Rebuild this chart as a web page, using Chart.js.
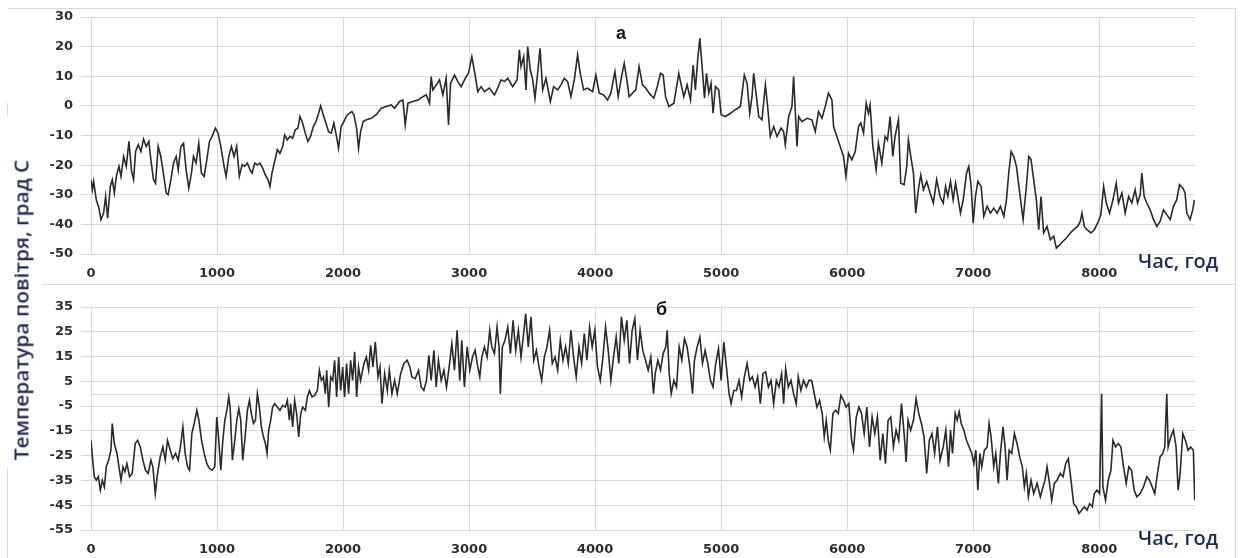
<!DOCTYPE html>
<html lang="uk">
<head>
<meta charset="utf-8">
<title>Температура повітря</title>
<script src="https://cdn.jsdelivr.net/npm/chart.js@4.4.1/dist/chart.umd.min.js"></script>
<style>
    html, body { margin: 0; padding: 0; background: #fff; }
    #wrap { position: relative; width: 1240px; height: 558px; overflow: hidden; background: #fff; }
    .line { position: absolute; background: #d9d9d9; }
    canvas { position: absolute; left: 0; }
    .axisTitle {
        position: absolute; white-space: nowrap; color: #1f2b58;
        font-family: "Open Sans", sans-serif; font-weight: 600; line-height: 1;
    }
    .panelLetter {
        position: absolute; font-family: "Liberation Sans", Arial, sans-serif;
        font-weight: bold; font-size: 18px; line-height: 1; color: #111;
    }
</style>
</head>
<body>
<div id="wrap">
    <!-- frames around both panels -->
    <div class="line" style="left:8px;top:8px;width:1228px;height:1px"></div>
    <div class="line" style="left:7px;top:103px;width:1px;height:181px"></div>
    <div class="line" style="left:1235px;top:8px;width:1px;height:550px"></div>
    <div class="line" style="left:8px;top:284px;width:1228px;height:1px"></div>
    <div class="line" style="left:7px;top:468px;width:1px;height:90px"></div>
    <div style="position:absolute;left:0;top:116px;width:42px;height:350px;background:#fff"></div>

    <canvas id="chartA" width="1240" height="284" style="top:0"></canvas>
    <canvas id="chartB" width="1240" height="274" style="top:284px"></canvas>

    <div id="yTitle" class="axisTitle" style="left:22px;top:310px;font-size:19px">Температура повітря, град С</div>
    <div class="axisTitle xTitle" style="left:1138px;top:252px;font-size:19px">Час, год</div>
    <div class="axisTitle xTitle" style="left:1138px;top:529px;font-size:19px">Час, год</div>
    <div class="panelLetter" style="left:616px;top:24px">а</div>
    <div class="panelLetter" style="left:656px;top:300px">б</div>
</div>

<script>
// Tick values
const xTicks = [0, 1000, 2000, 3000, 4000, 5000, 6000, 7000, 8000];
const yTicksA = [30, 20, 10, 0, -10, -20, -30, -40, -50];
const yTicksB = [35, 25, 15, 5, -5, -15, -25, -35, -45, -55];

// Panel "а": hour of year and air temperature
const hoursA = [0, 11, 21, 42, 63, 79, 100, 116, 132, 153, 169, 185, 201, 222, 238, 259, 280, 301, 322, 338,
    354, 375, 396, 417, 438, 459, 475, 496, 512, 533, 554, 576, 597, 612, 634, 655, 676, 692, 713, 734,
    755, 776, 797, 813, 834, 855, 876, 898, 919, 940, 961, 987, 1008, 1030, 1056, 1072, 1093, 1114, 1135, 1156,
    1177, 1199, 1220, 1241, 1262, 1278, 1299, 1320, 1341, 1362, 1383, 1404, 1420, 1436, 1457, 1478, 1499, 1521, 1537, 1558,
    1579, 1600, 1621, 1642, 1658, 1679, 1700, 1721, 1742, 1764, 1785, 1806, 1822, 1843, 1864, 1885, 1906, 1927, 1948, 1964,
    1985, 2006, 2028, 2049, 2070, 2086, 2107, 2123, 2139, 2160, 2185, 2224, 2264, 2303, 2343, 2383, 2409, 2449, 2475, 2493,
    2515, 2554, 2594, 2633, 2660, 2686, 2699, 2713, 2739, 2765, 2792, 2818, 2837, 2853, 2884, 2911, 2937, 2977, 2995, 3022,
    3043, 3069, 3095, 3122, 3161, 3201, 3227, 3254, 3280, 3307, 3346, 3381, 3399, 3412, 3433, 3452, 3465, 3486, 3505, 3523,
    3544, 3563, 3584, 3610, 3645, 3671, 3703, 3729, 3755, 3782, 3808, 3835, 3861, 3882, 3909, 3940, 3980, 4006, 4033, 4067,
    4099, 4125, 4157, 4183, 4210, 4231, 4252, 4270, 4297, 4323, 4349, 4376, 4402, 4429, 4466, 4493, 4519, 4540, 4559, 4585,
    4625, 4664, 4683, 4704, 4730, 4757, 4778, 4796, 4815, 4831, 4849, 4868, 4884, 4902, 4920, 4936, 4955, 4981, 5000, 5034,
    5074, 5113, 5153, 5184, 5206, 5227, 5245, 5258, 5280, 5298, 5324, 5351, 5369, 5390, 5417, 5443, 5475, 5496, 5509, 5536,
    5562, 5575, 5588, 5602, 5615, 5641, 5681, 5720, 5747, 5773, 5800, 5826, 5852, 5879, 5892, 5918, 5945, 5971, 5990, 6011,
    6037, 6064, 6090, 6108, 6130, 6151, 6169, 6182, 6204, 6230, 6248, 6275, 6301, 6320, 6341, 6362, 6380, 6407, 6425, 6452,
    6473, 6486, 6505, 6526, 6544, 6565, 6584, 6605, 6631, 6658, 6684, 6710, 6737, 6762, 6781, 6799, 6820, 6841, 6860, 6878,
    6899, 6921, 6947, 6965, 6984, 7000, 7018, 7037, 7063, 7084, 7111, 7137, 7163, 7190, 7216, 7243, 7264, 7282, 7301, 7322,
    7343, 7369, 7396, 7422, 7441, 7459, 7480, 7501, 7520, 7538, 7559, 7586, 7612, 7639, 7660, 7686, 7713, 7739, 7771, 7797,
    7829, 7850, 7863, 7882, 7903, 7934, 7961, 7987, 8013, 8035, 8056, 8082, 8109, 8135, 8153, 8180, 8206, 8233, 8259, 8285,
    8304, 8325, 8338, 8357, 8378, 8404, 8431, 8457, 8483, 8510, 8536, 8563, 8589, 8615, 8637, 8663, 8681, 8695, 8721, 8742,
    8755];
const tempA = [-24.9, -28.3, -25.5, -31.7, -34.5, -38.4, -36.2, -30.6, -37.9, -27.2, -24.9, -29.4, -23.8, -20.4, -23.8, -17.1, -20.4, -12.0, -22.1, -24.9,
    -15.4, -13.1, -15.4, -11.2, -13.7, -12.0, -18.2, -24.9, -26.1, -13.7, -17.1, -23.3, -29.4, -30.0, -24.9, -19.3, -17.1, -21.6, -13.7, -12.6,
    -21.6, -27.8, -22.7, -17.1, -19.3, -12.6, -22.7, -23.8, -18.2, -12.0, -10.3, -7.5, -9.2, -13.7, -20.4, -23.8, -17.1, -13.7, -17.1, -13.7,
    -23.8, -19.9, -20.4, -19.3, -21.6, -22.7, -19.3, -19.9, -19.3, -21.0, -23.3, -24.9, -27.2, -22.7, -18.8, -14.8, -16.0, -13.7, -9.8, -11.5,
    -10.3, -10.9, -8.1, -7.5, -3.6, -5.8, -9.2, -12.0, -10.3, -7.0, -5.3, -2.5, 0, -3.0, -5.8, -8.7, -9.2, -5.8, -10.3, -14.3,
    -7.0, -5.3, -3.4, -2.5, -1.9, -3.0, -7.5, -14.3, -8.7, -5.3, -4.7, -4.2, -3.0, -0.8, -0.2, 0.3, -0.8, 1.5, 2.0, -6.4,
    0.9, 1.5, 2.0, 3.1, 3.7, 0.9, 9.9, 5.4, 7.1, 8.8, 3.7, 9.3, -6.4, 7.6, 10.4, 8.2, 6.5, 9.9, 11.0, 16.6,
    11.6, 4.8, 6.5, 4.8, 6.0, 3.7, 6.0, 8.8, 8.2, 9.3, 6.5, 8.8, 18.9, 13.3, 16.6, 5.4, 20.0, 12.1, 8.8, 2.6,
    11.0, 19.4, 5.4, 9.3, 1.5, 6.5, 5.4, 7.1, 9.3, 8.2, 3.1, 8.8, 17.2, 11.0, 5.4, 6.0, 4.8, 10.4, 4.3, 3.7,
    2.0, 4.3, 11.6, 3.1, 9.9, 14.4, 8.8, 3.1, 4.3, 5.4, 13.3, 7.1, 6.0, 4.3, 2.6, 6.5, 11.0, 10.4, 3.1, -0.2,
    0.9, 11.0, 7.1, 3.1, 7.1, 2.0, 13.8, 5.4, 16.1, 22.8, 13.3, 2.6, 11.0, 4.3, 7.6, -2.5, 6.5, 5.4, -3.0, -3.6,
    -2.5, -1.3, -0.2, 10.4, 7.6, -2.5, 3.1, 11.0, 3.1, -3.6, -4.7, 7.1, -0.2, -10.3, -7.0, -10.3, -7.5, -8.7, -13.1, -3.6,
    -0.2, 9.9, -1.3, -13.7, -3.6, -5.3, -4.2, -4.7, -8.7, -1.9, -4.2, -0.2, 4.3, 2.0, -7.0, -10.3, -13.7, -17.1, -23.8, -16.0,
    -18.2, -15.4, -7.0, -5.8, -9.2, 0.9, -2.5, 0.3, -13.7, -21.6, -12.6, -19.3, -10.3, -11.5, -3.6, -17.1, -10.3, -4.7, -26.1, -26.6,
    -20.4, -11.5, -17.1, -22.7, -36.2, -28.3, -23.3, -28.3, -25.5, -29.4, -32.8, -24.9, -30.6, -32.8, -27.2, -30.6, -25.5, -31.7, -26.1, -30.6,
    -36.2, -31.7, -22.7, -20.4, -27.2, -39.6, -30.6, -25.5, -27.2, -37.3, -33.9, -36.2, -34.5, -36.2, -33.9, -37.3, -31.7, -22.7, -15.4, -17.1,
    -20.4, -29.4, -38.4, -27.2, -17.1, -18.2, -24.9, -31.7, -41.8, -30.6, -42.9, -40.7, -45.2, -44.0, -48.0, -46.9, -45.7, -44.6, -42.9, -41.8,
    -40.7, -39.0, -36.2, -40.7, -41.8, -42.9, -41.8, -39.6, -36.7, -27.2, -32.8, -36.2, -31.7, -26.1, -32.8, -29.4, -36.2, -30.6, -32.8, -28.3,
    -32.8, -30.0, -22.7, -30.6, -32.8, -35.1, -38.4, -40.7, -39.0, -35.1, -36.7, -38.4, -33.9, -31.7, -26.6, -27.7, -29.4, -36.2, -38.4, -35.1,
    -31.7];

// Panel "б": hour of year and air temperature
const hoursB = [0, 11, 26, 42, 58, 74, 90, 106, 121, 140, 158, 169, 185, 206, 222, 238, 254, 269, 285, 306,
    327, 351, 370, 391, 412, 433, 454, 475, 491, 510, 528, 549, 570, 589, 607, 629, 649, 671, 692, 713,
    729, 747, 766, 782, 800, 819, 840, 856, 877, 898, 919, 940, 961, 982, 998, 1014, 1030, 1046, 1062, 1078,
    1093, 1104, 1122, 1141, 1157, 1173, 1188, 1204, 1223, 1241, 1257, 1273, 1289, 1305, 1320, 1336, 1352, 1368, 1384, 1397,
    1410, 1426, 1441, 1457, 1478, 1499, 1521, 1542, 1558, 1574, 1584, 1600, 1616, 1632, 1648, 1664, 1680, 1701, 1717, 1733,
    1754, 1775, 1796, 1812, 1828, 1844, 1859, 1870, 1886, 1902, 1918, 1933, 1949, 1965, 1981, 1997, 2012, 2028, 2044, 2060,
    2076, 2092, 2108, 2123, 2139, 2166, 2185, 2203, 2219, 2237, 2256, 2277, 2293, 2309, 2330, 2351, 2367, 2388, 2409, 2430,
    2457, 2483, 2509, 2530, 2546, 2573, 2599, 2620, 2641, 2662, 2681, 2699, 2721, 2739, 2757, 2779, 2800, 2821, 2842, 2863,
    2884, 2905, 2926, 2942, 2963, 2985, 3006, 3027, 3048, 3069, 3085, 3101, 3122, 3143, 3164, 3180, 3201, 3222, 3238, 3248,
    3264, 3285, 3307, 3328, 3349, 3370, 3391, 3412, 3433, 3449, 3470, 3491, 3513, 3534, 3555, 3576, 3597, 3618, 3639, 3660,
    3682, 3703, 3724, 3745, 3766, 3787, 3808, 3829, 3850, 3872, 3893, 3914, 3935, 3956, 3977, 3998, 4019, 4041, 4062, 4083,
    4104, 4125, 4146, 4167, 4188, 4209, 4231, 4252, 4273, 4294, 4315, 4336, 4357, 4378, 4400, 4421, 4442, 4463, 4477, 4498,
    4519, 4540, 4561, 4572, 4588, 4604, 4625, 4646, 4667, 4688, 4709, 4730, 4752, 4773, 4788, 4810, 4831, 4852, 4873, 4894,
    4915, 4936, 4957, 4979, 5000, 5021, 5042, 5063, 5079, 5100, 5121, 5142, 5163, 5184, 5206, 5227, 5248, 5269, 5290, 5311,
    5332, 5353, 5375, 5396, 5417, 5438, 5459, 5480, 5496, 5512, 5533, 5554, 5575, 5596, 5612, 5633, 5654, 5676, 5697, 5718,
    5739, 5760, 5781, 5802, 5818, 5834, 5850, 5866, 5887, 5908, 5929, 5950, 5971, 5992, 6013, 6035, 6050, 6072, 6093, 6114,
    6135, 6156, 6177, 6198, 6219, 6240, 6262, 6283, 6304, 6325, 6346, 6367, 6388, 6409, 6431, 6452, 6468, 6483, 6504, 6526,
    6547, 6568, 6589, 6610, 6631, 6652, 6673, 6694, 6716, 6737, 6762, 6783, 6804, 6820, 6836, 6857, 6873, 6889, 6905, 6926,
    6947, 6968, 6989, 7005, 7021, 7037, 7053, 7068, 7089, 7111, 7126, 7142, 7163, 7179, 7200, 7216, 7237, 7253, 7269, 7285,
    7306, 7327, 7348, 7369, 7390, 7406, 7422, 7438, 7459, 7480, 7507, 7533, 7554, 7570, 7586, 7602, 7623, 7644, 7665, 7691,
    7713, 7734, 7755, 7776, 7797, 7818, 7839, 7860, 7882, 7903, 7924, 7945, 7961, 7982, 8003, 8019, 8029, 8050, 8072, 8093,
    8109, 8130, 8151, 8172, 8193, 8214, 8235, 8256, 8277, 8298, 8325, 8351, 8378, 8399, 8420, 8441, 8462, 8483, 8505, 8520,
    8536, 8547, 8568, 8589, 8610, 8626, 8642, 8663, 8684, 8705, 8726, 8747, 8758];
const tempB = [-18.8, -25.5, -33.5, -34.9, -33.5, -38.9, -34.9, -37.6, -29.5, -26.8, -22.8, -12.0, -20.1, -24.1, -29.5, -34.9, -29.5, -31.5, -28.2, -33.5,
    -32.2, -20.1, -18.8, -21.5, -26.8, -30.9, -32.2, -26.8, -29.5, -40.3, -32.2, -25.5, -21.5, -26.8, -18.8, -22.8, -26.2, -24.1, -26.8, -20.1,
    -13.4, -24.1, -29.5, -30.9, -16.1, -12.0, -6.7, -10.7, -18.8, -24.1, -28.2, -30.2, -30.9, -29.5, -9.4, -18.8, -30.9, -18.8, -10.7, -6.7,
    -1.3, -5.4, -26.8, -18.8, -10.7, -6.0, -10.7, -26.8, -17.4, -6.7, -2.7, -8.1, -12.0, -10.7, 0, -5.4, -13.4, -17.4, -20.1, -24.1,
    -14.7, -10.7, -5.4, -4.0, -5.4, -6.7, -4.7, -5.4, -2.7, -10.7, -4.0, -13.4, -2.7, -8.1, -17.4, -8.1, -5.4, -6.7, -1.3, 1.3,
    -1.3, -0.7, 1.3, 9.5, 5.4, 6.8, 0, 9.5, -5.4, 6.8, 5.4, 13.5, -1.3, 14.8, 1.3, 10.8, -1.3, 12.2, 0, 13.5,
    5.4, 16.9, -1.3, 10.8, 5.4, 12.2, 14.8, 9.5, 19.5, 10.8, 20.9, 6.8, 10.8, -4.0, 8.1, 1.3, 9.5, 0, 5.4, 0,
    8.1, 12.2, 13.5, 10.8, 6.8, 6.1, 9.5, 2.7, 1.3, 5.4, 15.5, 5.4, 17.5, 2.7, 13.5, 5.4, 9.5, 2.7, 10.8, 20.2,
    9.5, 25.6, 5.4, 21.6, 2.7, 18.9, 9.5, 14.8, 17.5, 10.8, 6.8, 14.8, 18.9, 14.8, 25.6, 18.9, 16.2, 26.9, 18.9, 0,
    18.9, 21.6, 26.9, 16.2, 29.6, 17.5, 25.6, 14.8, 24.3, 32.3, 18.9, 31.0, 13.5, 17.5, 10.8, 5.4, 14.8, 18.9, 25.6, 12.2,
    14.8, 9.5, 21.6, 13.5, 18.9, 12.2, 25.6, 14.8, 6.8, 18.9, 12.2, 24.3, 13.5, 26.9, 18.9, 25.6, 10.8, 5.4, 14.8, 26.9,
    17.5, 5.4, 14.8, 22.9, 12.2, 31.0, 21.6, 29.6, 12.2, 25.6, 30.3, 13.5, 25.6, 17.5, 13.5, 9.5, 14.8, 0, 8.1, 13.5,
    9.5, 16.2, 18.9, 25.6, 8.1, 0, 5.4, 2.7, 18.9, 13.5, 22.2, 18.9, 10.8, 0, 13.5, 18.9, 22.9, 12.2, 17.5, 12.2,
    5.4, 2.7, 12.2, 18.2, 5.4, 20.9, 10.8, 0, -4.0, 1.3, 1.3, 5.4, -1.3, 6.8, 12.2, 5.4, 6.8, 2.7, 6.8, -4.0,
    8.1, 8.8, 2.7, 5.4, -4.0, 5.4, 2.7, 8.1, -4.0, 10.1, 2.7, 5.4, 0, -4.0, 6.8, 1.3, 5.4, 2.7, 5.4, 5.4,
    0, -5.4, -2.7, -8.0, -17.4, -10.7, -18.8, -22.8, -8.0, -6.7, -8.0, -0.7, -2.7, -5.4, -4.0, -18.8, -22.8, -9.4, -5.4, -8.0,
    -16.1, -5.4, -21.5, -9.4, -16.1, -9.4, -26.8, -16.1, -28.2, -10.7, -9.4, -21.5, -14.7, -18.8, -4.0, -16.1, -27.5, -10.7, -14.7, -10.7,
    -2.0, -8.0, -12.0, -17.4, -32.2, -18.8, -16.1, -24.1, -13.4, -26.8, -21.5, -14.7, -29.5, -14.7, -24.1, -8.0, -10.7, -7.3, -12.0, -14.7,
    -18.8, -21.5, -24.1, -28.2, -22.8, -38.9, -24.1, -29.5, -22.8, -21.5, -12.0, -17.4, -29.5, -24.1, -36.2, -24.1, -13.4, -21.5, -34.9, -22.8,
    -24.1, -16.1, -20.1, -25.5, -29.5, -37.6, -32.2, -41.6, -34.9, -40.3, -36.2, -41.6, -37.6, -34.9, -29.5, -34.9, -43.0, -36.2, -34.9, -32.2,
    -33.5, -28.2, -26.2, -34.9, -44.4, -45.6, -48.3, -47.0, -45.6, -47.0, -44.4, -45.6, -40.3, -38.9, -40.3, 0, -37.6, -43.0, -34.9, -30.9,
    -18.8, -21.5, -20.1, -21.5, -29.5, -36.2, -29.5, -30.9, -38.9, -41.6, -40.3, -37.6, -33.5, -34.9, -37.6, -40.3, -32.2, -25.5, -24.1, -21.5,
    0, -21.5, -17.4, -14.7, -21.5, -38.9, -32.2, -16.1, -18.8, -22.8, -21.5, -22.8, -43.0];

const gridColor = '#d9d9d9';
const tickFont = { family: '"DejaVu Sans", Verdana, sans-serif', size: 13, weight: 'bold' };
const tickColor = '#2e2e2e';

// light line across the bottom panel at 0 degrees
const zeroLine = {
    id: 'zeroLine',
    beforeDatasetsDraw(chart, args, opts) {
        if (!opts.show) return;
        const y = Math.round(chart.scales.y.getPixelForValue(0)) + 0.5;
        const ctx = chart.ctx;
        ctx.save();
        ctx.strokeStyle = gridColor;
        ctx.lineWidth = 1;
        ctx.beginPath();
        ctx.moveTo(chart.chartArea.left, y);
        ctx.lineTo(chart.chartArea.right, y);
        ctx.stroke();
        ctx.restore();
    }
};

function buildPanel(canvasId, hours, temps, yTicks, padTop, axisHeight, showZero) {
    new Chart(document.getElementById(canvasId), {
        type: 'line',
        data: {
            datasets: [{
                data: hours.map((h, i) => ({ x: h, y: temps[i] })),
                borderColor: '#2a2a2a',
                borderWidth: 1.6,
                pointRadius: 0,
                tension: 0
            }]
        },
        options: {
            responsive: false,
            animation: false,
            layout: { padding: { top: padTop, right: 45, left: 0, bottom: 0 } },
            plugins: {
                legend: { display: false },
                tooltip: { enabled: false },
                zeroLine: { show: showZero }
            },
            scales: {
                x: {
                    type: 'linear',
                    min: 0,
                    max: 8760,
                    afterBuildTicks: s => { s.ticks = xTicks.map(v => ({ value: v })); },
                    afterFit: s => { s.height = axisHeight; },
                    grid: { color: gridColor, drawTicks: false },
                    border: { display: false },
                    ticks: {
                        font: tickFont, color: tickColor, padding: 12, maxRotation: 0, autoSkip: false,
                        callback: v => String(v)
                    }
                },
                y: {
                    type: 'linear',
                    min: yTicks[yTicks.length - 1],
                    max: yTicks[0],
                    afterBuildTicks: s => { s.ticks = yTicks.map(v => ({ value: v })); },
                    afterFit: s => { s.width = 91; },
                    grid: { color: gridColor, tickLength: 10 },
                    border: { display: false },
                    ticks: { font: tickFont, color: tickColor, padding: 8, callback: v => String(v) }
                }
            }
        },
        plugins: [zeroLine]
    });
}

buildPanel('chartA', hoursA, tempA, yTicksA, 17, 30, false);
buildPanel('chartB', hoursB, tempB, yTicksB, 23, 28, true);

// stretch the axis titles to their text box widths
function fitText(el, width, rotate) {
    const w = el.offsetWidth;
    const k = width / w;
    el.style.transformOrigin = rotate ? 'center center' : 'left top';
    el.style.transform = rotate
        ? `translate(-50%, -50%) rotate(-90deg) scaleX(${k})`
        : `scaleX(${k})`;
}
fitText(document.getElementById('yTitle'), 300, true);
document.querySelectorAll('.xTitle').forEach(el => fitText(el, 80, false));
</script>
</body>
</html>
